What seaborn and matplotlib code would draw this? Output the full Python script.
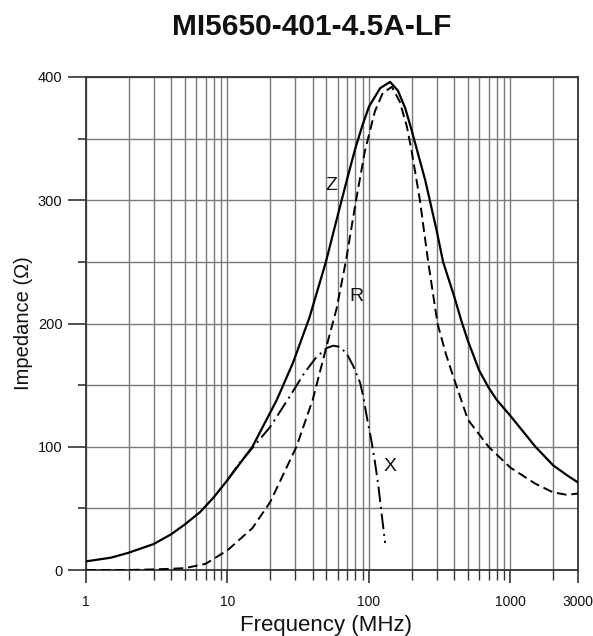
import pandas as pd
import matplotlib.pyplot as plt
import matplotlib.ticker as mticker
import seaborn as sns

# curves (frequency in MHz, impedance in ohm)
freq_z = [1, 1.5, 2, 3, 4, 5, 6.4, 8, 10, 15, 22.3, 29, 38, 49.6, 59, 69.6, 80,
          90, 100, 120, 141, 160, 180, 200, 250, 300, 334, 400, 450, 500, 600,
          700, 800, 1000, 1500, 2000, 2500, 3000]
z_ohm = [7, 10, 14, 21, 29, 37, 47, 59, 73, 100, 138, 168, 205, 250, 284, 316,
         342, 361, 376, 391, 396, 389, 375, 357, 316, 276, 250, 222, 202, 186,
         162, 148, 138, 125, 100, 85, 77, 71]

freq_r = [1, 2, 3, 4, 5, 7, 10, 15, 20, 30.7, 40, 50, 59, 68.5, 81, 93.6, 110,
          125, 145, 165, 185, 200, 217, 229, 262, 305, 350, 394, 500, 700, 1000,
          1500, 2000, 2500, 3000]
r_ohm = [0, 0, 0.5, 1, 1.5, 5, 16, 34, 55, 100, 138, 181, 212, 250, 300, 340,
         372, 387, 392, 380, 360, 340, 316, 300, 250, 200, 175, 157, 122, 100, 83,
         70, 63, 61, 62]

freq_x = [10, 12, 14.5, 20, 27.6, 35, 42, 50, 56, 62.6, 70, 77, 86.5, 91, 98,
          104, 110, 116, 123, 130]
x_ohm = [73, 86, 97, 116, 141, 160, 172, 180, 182, 181, 175, 166, 152, 141, 120,
         105, 88, 70, 45, 22]

xtick_vals = [1, 10, 100, 1000, 3000]
xtick_labels = ["1", "10", "100", "1000", "3000"]

sns.set_style("white")
plt.rcParams["font.family"] = ["Liberation Sans", "DejaVu Sans"]
plt.rcParams["text.color"] = "#111111"
plt.rcParams["axes.labelcolor"] = "#111111"
plt.rcParams["xtick.color"] = "#111111"
plt.rcParams["ytick.color"] = "#111111"

fig = plt.figure(figsize=(5.93, 6.36), dpi=100)
ax = fig.add_axes([86 / 593, 1 - 570 / 636, (578 - 86) / 593, (570 - 77) / 636])

df_z = pd.DataFrame({"f": freq_z, "v": z_ohm})
df_r = pd.DataFrame({"f": freq_r, "v": r_ohm})
df_x = pd.DataFrame({"f": freq_x, "v": x_ohm})

sns.lineplot(data=df_z, x="f", y="v", color="black", lw=1.6, ax=ax, zorder=3)
l_r = sns.lineplot(data=df_r, x="f", y="v", color="black", lw=1.4, ax=ax, zorder=3).lines[-1]
l_r.set_dashes((5, 2.5))
l_x = sns.lineplot(data=df_x, x="f", y="v", color="black", lw=1.4, ax=ax, zorder=3).lines[-1]
l_x.set_dashes((8, 2.5, 1, 2.5))

ax.set_xscale("log")
ax.set_xlim(1, 3000)
ax.set_ylim(0, 400)

# ticks and grid
ax.xaxis.set_major_locator(mticker.FixedLocator(xtick_vals))
ax.xaxis.set_major_formatter(mticker.FixedFormatter(xtick_labels))
ax.xaxis.set_minor_locator(mticker.LogLocator(base=10, subs=range(2, 10), numticks=20))
ax.xaxis.set_minor_formatter(mticker.NullFormatter())
ax.yaxis.set_major_locator(mticker.MultipleLocator(100))
ax.yaxis.set_minor_locator(mticker.MultipleLocator(50))

ax.grid(True, which="both", color="#7a7a7a", lw=1.0)
ax.set_axisbelow(True)
ax.tick_params(axis="x", which="major", direction="out", length=9, width=1.2,
               pad=9, labelsize=10, color="#333333", bottom=True)
ax.tick_params(axis="x", which="minor", direction="out", length=7, width=1.0,
               color="#333333", bottom=True)
ax.tick_params(axis="y", which="major", direction="out", length=13, width=1.2,
               pad=4, labelsize=10.5, color="#333333", left=True)
ax.tick_params(axis="y", which="minor", direction="out", length=6, width=1.2,
               color="#333333", left=True)
for s in ax.spines.values():
    s.set_color("#333333")
    s.set_linewidth(1.3)

ax.set_xlabel("Frequency (MHz)", fontsize=16, labelpad=4)
ax.xaxis.label.set_x((326.5 - 86) / 492)
ax.set_ylabel("Impedance (\u03a9)", fontsize=14.5, labelpad=3.5)

# curve labels
ax.text(54, 312, "Z", fontsize=14, ha="center", va="center")
ax.text(82, 222, "R", fontsize=14, ha="center", va="center")
ax.text(140, 84, "X", fontsize=14, ha="center", va="center")

fig.text(312 / 593, 1 - 27 / 636, "MI5650-401-4.5A-LF", fontsize=21.5,
         fontweight="bold", ha="center", va="center")

plt.savefig("out.png", dpi=100)
